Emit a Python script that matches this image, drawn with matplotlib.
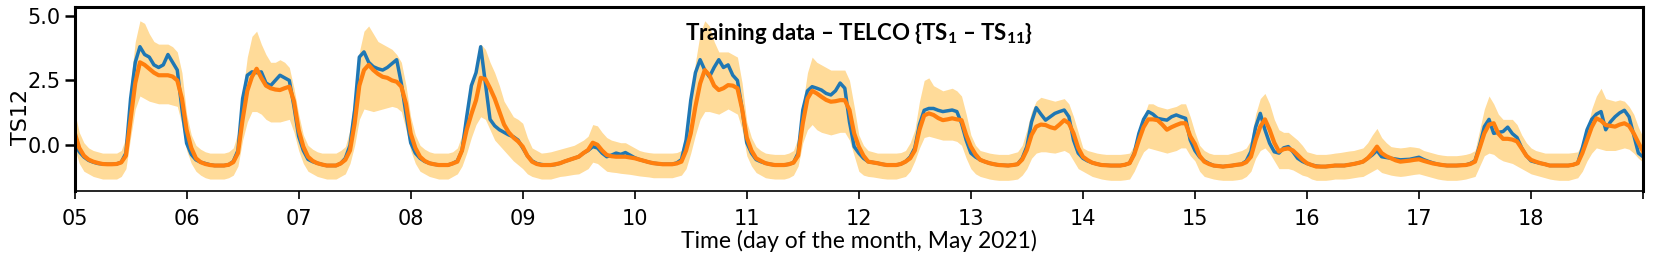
import pandas as pd
import matplotlib
matplotlib.use('Agg')
import matplotlib.pyplot as plt

plt.rcParams['mathtext.fontset'] = 'custom'
plt.rcParams['mathtext.rm'] = 'Lato'
plt.rcParams['mathtext.bf'] = 'Lato:bold'

# hourly samples from 5 May 00:00 to 19 May 00:00 (one row per day)
start, end = '2021-05-05 00:00', '2021-05-19 00:00'

actual = [
    0.1, -0.25, -0.45, -0.58, -0.65, -0.7, -0.72, -0.73, -0.73, -0.72, -0.65, -0.3,
    1.8, 3.2, 3.8, 3.5, 3.4, 3.1, 3.0, 3.1, 3.5, 3.2, 2.9, 1.4,
    0.08, -0.35, -0.56, -0.65, -0.7, -0.75, -0.78, -0.78, -0.78, -0.75, -0.62, -0.2,
    1.8, 2.7, 2.83, 2.8, 2.83, 2.4, 2.3, 2.5, 2.7, 2.6, 2.5, 1.5,
    0.35, -0.2, -0.54, -0.63, -0.69, -0.74, -0.78, -0.78, -0.78, -0.7, -0.5, 0.0,
    1.36, 3.4, 3.6, 3.2, 3.03, 2.95, 2.9, 3.0, 3.15, 3.3, 2.38, 1.2,
    0.1, -0.3, -0.5, -0.62, -0.69, -0.73, -0.76, -0.76, -0.76, -0.7, -0.6, -0.2,
    1.1, 2.3, 2.8, 3.8, 2.4, 1.0, 0.75, 0.6, 0.5, 0.4, 0.33, 0.2,
    -0.1, -0.4, -0.6, -0.7, -0.74, -0.76, -0.76, -0.74, -0.69, -0.62, -0.56, -0.5,
    -0.44, -0.3, -0.2, -0.05, -0.1, -0.3, -0.44, -0.38, -0.3, -0.35, -0.28, -0.38,
    -0.48, -0.55, -0.6, -0.65, -0.69, -0.71, -0.73, -0.73, -0.73, -0.68, -0.55, 0.2,
    1.74, 2.8, 3.3, 2.9, 2.64, 3.0, 3.3, 3.0, 3.1, 2.7, 2.5, 1.4,
    0.1, -0.3, -0.55, -0.63, -0.69, -0.73, -0.76, -0.76, -0.76, -0.73, -0.67, -0.3,
    1.36, 2.1, 2.26, 2.2, 2.13, 2.0, 1.94, 2.1, 2.4, 2.2, 0.9, -0.05,
    -0.3, -0.5, -0.63, -0.66, -0.69, -0.73, -0.76, -0.76, -0.76, -0.72, -0.63, -0.45,
    -0.1, 0.8, 1.35, 1.42, 1.42, 1.35, 1.3, 1.33, 1.36, 1.3, 0.85, 0.2,
    -0.3, -0.45, -0.56, -0.63, -0.69, -0.73, -0.76, -0.77, -0.78, -0.76, -0.73, -0.5,
    -0.05, 0.9, 1.45, 1.2, 0.97, 1.1, 1.23, 1.3, 1.36, 1.1, 0.2, -0.3,
    -0.5, -0.6, -0.67, -0.72, -0.76, -0.77, -0.78, -0.78, -0.78, -0.75, -0.69, -0.3,
    0.46, 1.0, 1.3, 1.2, 1.04, 1.0, 0.97, 1.1, 1.17, 1.1, 1.04, 0.2,
    -0.2, -0.45, -0.6, -0.7, -0.78, -0.8, -0.82, -0.8, -0.78, -0.75, -0.73, -0.6,
    -0.24, 0.7, 1.23, 0.6, 0.08, -0.25, -0.3, -0.1, -0.05, -0.25, -0.5, -0.62,
    -0.7, -0.76, -0.8, -0.82, -0.82, -0.8, -0.78, -0.78, -0.78, -0.75, -0.72, -0.68,
    -0.63, -0.5, -0.37, -0.2, -0.44, -0.47, -0.5, -0.53, -0.56, -0.55, -0.54, -0.5,
    -0.46, -0.55, -0.62, -0.68, -0.73, -0.76, -0.78, -0.78, -0.78, -0.77, -0.76, -0.7,
    -0.6, 0.0, 0.72, 1.0, 0.46, 0.5, 0.53, 0.7, 0.45, 0.3, -0.1, -0.4,
    -0.6, -0.65, -0.69, -0.73, -0.78, -0.78, -0.78, -0.78, -0.78, -0.75, -0.69, -0.1,
    0.6, 1.0, 1.2, 1.3, 0.6, 0.9, 1.1, 1.25, 1.35, 1.1, 0.4, -0.3,
    -0.44,
]

predicted = [
    0.5, -0.1, -0.4, -0.55, -0.63, -0.68, -0.72, -0.73, -0.73, -0.72, -0.66, -0.4,
    1.0, 2.4, 3.2, 3.1, 2.95, 2.8, 2.7, 2.7, 2.7, 2.65, 2.5, 1.8,
    0.6, -0.1, -0.5, -0.65, -0.72, -0.76, -0.78, -0.78, -0.78, -0.75, -0.65, -0.3,
    1.0, 2.1, 2.64, 2.95, 2.6, 2.3, 2.2, 2.15, 2.13, 2.2, 2.26, 1.7,
    0.6, -0.05, -0.44, -0.6, -0.69, -0.74, -0.78, -0.78, -0.78, -0.7, -0.56, -0.2,
    0.85, 2.3, 2.9, 3.1, 2.9, 2.75, 2.64, 2.6, 2.5, 2.45, 2.26, 1.6,
    0.46, -0.1, -0.44, -0.6, -0.69, -0.73, -0.76, -0.76, -0.76, -0.7, -0.63, -0.2,
    0.6, 1.2, 1.74, 2.6, 2.55, 2.2, 1.8, 1.3, 0.8, 0.5, 0.3, 0.15,
    -0.05, -0.4, -0.63, -0.72, -0.76, -0.76, -0.76, -0.73, -0.69, -0.62, -0.56, -0.5,
    -0.44, -0.3, -0.18, 0.1, 0.02, -0.2, -0.37, -0.42, -0.44, -0.44, -0.44, -0.47,
    -0.5, -0.55, -0.6, -0.65, -0.69, -0.71, -0.73, -0.73, -0.73, -0.7, -0.63, -0.2,
    0.46, 1.5, 2.38, 2.9, 2.7, 2.3, 2.13, 2.2, 2.32, 2.3, 2.2, 1.4,
    0.3, -0.2, -0.5, -0.6, -0.69, -0.73, -0.76, -0.76, -0.76, -0.73, -0.67, -0.4,
    0.85, 1.8, 2.1, 2.0, 1.87, 1.75, 1.68, 1.7, 1.74, 1.74, 1.36, 0.46,
    -0.05, -0.4, -0.63, -0.66, -0.69, -0.73, -0.76, -0.76, -0.76, -0.72, -0.63, -0.5,
    -0.2, 0.6, 1.15, 1.23, 1.17, 1.05, 0.97, 1.0, 1.04, 1.0, 0.97, 0.4,
    -0.05, -0.35, -0.56, -0.63, -0.69, -0.73, -0.76, -0.77, -0.78, -0.76, -0.73, -0.55,
    -0.18, 0.4, 0.72, 0.8, 0.78, 0.7, 0.65, 0.8, 0.97, 0.85, 0.46, -0.1,
    -0.44, -0.57, -0.67, -0.72, -0.76, -0.77, -0.78, -0.78, -0.78, -0.75, -0.69, -0.35,
    0.2, 0.7, 1.0, 1.0, 0.97, 0.8, 0.6, 0.7, 0.78, 0.85, 0.85, 0.35,
    0.05, -0.4, -0.63, -0.72, -0.78, -0.8, -0.82, -0.8, -0.78, -0.75, -0.73, -0.65,
    -0.44, 0.2, 0.72, 1.0, 0.6, 0.1, -0.24, -0.15, -0.12, -0.2, -0.37, -0.55,
    -0.69, -0.76, -0.82, -0.82, -0.82, -0.8, -0.78, -0.78, -0.78, -0.75, -0.72, -0.68,
    -0.63, -0.5, -0.3, -0.05, -0.3, -0.42, -0.5, -0.58, -0.63, -0.61, -0.59, -0.56,
    -0.54, -0.6, -0.65, -0.7, -0.73, -0.76, -0.78, -0.78, -0.78, -0.77, -0.76, -0.72,
    -0.63, -0.1, 0.46, 0.8, 0.85, 0.45, 0.25, 0.25, 0.22, 0.15, -0.12, -0.4,
    -0.56, -0.63, -0.69, -0.73, -0.78, -0.78, -0.78, -0.78, -0.78, -0.75, -0.69, -0.3,
    0.2, 0.7, 1.04, 0.95, 0.78, 0.75, 0.72, 0.8, 0.85, 0.75, 0.46, 0.1,
    -0.24,
]

upper = [
    1.3, 0.5, 0.1, -0.1, -0.2, -0.25, -0.3, -0.3, -0.3, -0.3, -0.2, 0.3,
    2.4, 4.0, 4.8, 4.7, 4.3, 4.0, 3.9, 3.9, 3.9, 3.8, 3.6, 2.8,
    1.2, 0.4, 0.0, -0.15, -0.25, -0.3, -0.3, -0.3, -0.3, -0.25, -0.1, 0.5,
    2.0, 3.4, 4.2, 4.4, 3.9, 3.5, 3.2, 3.2, 3.3, 3.2, 3.0, 2.2,
    1.2, 0.4, 0.0, -0.15, -0.25, -0.3, -0.3, -0.3, -0.3, -0.2, -0.05, 0.6,
    2.0, 3.6, 4.4, 4.6, 4.3, 4.0, 3.9, 3.8, 3.7, 3.5, 3.2, 2.3,
    1.1, 0.4, 0.0, -0.15, -0.25, -0.3, -0.3, -0.3, -0.3, -0.25, -0.1, 0.4,
    1.5, 2.3, 3.0, 3.9, 3.7, 3.2, 2.8, 2.3, 1.7, 1.4, 1.1, 1.0,
    0.85, 0.3, -0.1, -0.2, -0.3, -0.28, -0.25, -0.2, -0.15, -0.1, -0.05, 0.0,
    0.1, 0.2, 0.35, 0.8, 0.75, 0.5, 0.3, 0.2, 0.15, 0.1, 0.1, 0.0,
    -0.1, -0.2, -0.25, -0.28, -0.3, -0.3, -0.3, -0.3, -0.3, -0.28, -0.2, 0.5,
    1.8, 3.2, 4.3, 4.8, 4.6, 4.0, 3.6, 3.6, 3.6, 3.5, 3.4, 2.4,
    0.9, 0.3, -0.05, -0.2, -0.3, -0.33, -0.35, -0.35, -0.35, -0.3, -0.2, 0.3,
    1.6, 2.8, 3.4, 3.2, 3.1, 3.0, 2.9, 2.9, 2.9, 2.9, 2.5, 1.5,
    0.4, 0.0, -0.2, -0.25, -0.3, -0.3, -0.3, -0.3, -0.3, -0.28, -0.2, 0.1,
    0.6, 1.7, 2.5, 2.6, 2.3, 2.2, 2.1, 2.15, 2.2, 2.1, 1.9, 1.2,
    0.4, 0.0, -0.2, -0.25, -0.3, -0.33, -0.35, -0.35, -0.35, -0.3, -0.25, 0.0,
    0.6, 1.3, 1.7, 1.85, 1.8, 1.75, 1.7, 1.75, 1.8, 1.6, 1.1, 0.5,
    -0.1, -0.2, -0.25, -0.3, -0.33, -0.35, -0.35, -0.35, -0.35, -0.33, -0.3, 0.0,
    0.4, 1.1, 1.6, 1.6, 1.5, 1.45, 1.4, 1.45, 1.5, 1.6, 1.6, 1.1,
    0.5, 0.0, -0.2, -0.3, -0.35, -0.35, -0.35, -0.35, -0.3, -0.25, -0.2, -0.1,
    0.2, 1.2, 1.8, 2.0, 1.6, 1.0, 0.6, 0.5, 0.5, 0.35, 0.2, 0.0,
    -0.25, -0.3, -0.35, -0.35, -0.35, -0.33, -0.3, -0.28, -0.25, -0.22, -0.2, -0.15,
    -0.1, 0.1, 0.4, 0.65, 0.3, 0.1, -0.05, -0.08, -0.1, -0.08, -0.05, -0.07,
    -0.1, -0.2, -0.25, -0.3, -0.35, -0.38, -0.4, -0.4, -0.4, -0.38, -0.35, -0.3,
    -0.2, 0.6, 1.4, 1.9, 1.6, 1.2, 1.0, 1.0, 1.0, 0.8, 0.4, 0.1,
    -0.1, -0.2, -0.25, -0.3, -0.3, -0.3, -0.3, -0.3, -0.3, -0.28, -0.25, 0.1,
    0.6, 1.4, 1.9, 2.2, 1.8, 1.75, 1.7, 1.75, 1.7, 1.5, 1.2, 0.7,
    0.3,
]

lower = [
    -0.1, -0.7, -1.0, -1.1, -1.2, -1.25, -1.3, -1.3, -1.3, -1.3, -1.2, -0.9,
    0.3, 1.4, 1.9, 1.8, 1.7, 1.65, 1.6, 1.6, 1.6, 1.55, 1.5, 0.8,
    -0.2, -0.7, -1.0, -1.15, -1.25, -1.3, -1.3, -1.3, -1.3, -1.25, -1.15, -0.8,
    0.2, 0.9, 1.3, 1.3, 1.2, 1.0, 0.9, 0.9, 0.9, 0.95, 1.0, 0.5,
    -0.2, -0.7, -1.0, -1.1, -1.2, -1.25, -1.3, -1.3, -1.3, -1.2, -1.1, -0.7,
    0.0, 1.0, 1.4, 1.35, 1.3, 1.35, 1.4, 1.45, 1.5, 1.45, 1.3, 0.6,
    -0.2, -0.7, -1.0, -1.1, -1.2, -1.25, -1.3, -1.3, -1.3, -1.2, -1.1, -0.8,
    -0.3, 0.3, 0.8, 1.1, 1.0, 0.6, 0.2, 0.0, -0.2, -0.4, -0.6, -0.75,
    -0.9, -1.1, -1.2, -1.25, -1.3, -1.3, -1.3, -1.25, -1.2, -1.18, -1.15, -1.12,
    -1.1, -1.0, -0.9, -0.65, -0.7, -0.85, -1.0, -1.03, -1.05, -1.08, -1.1, -1.12,
    -1.15, -1.18, -1.2, -1.22, -1.25, -1.25, -1.25, -1.25, -1.25, -1.2, -1.15, -0.9,
    -0.3, 0.4, 1.0, 1.3, 1.3, 1.25, 1.2, 1.3, 1.4, 1.3, 1.2, 0.6,
    -0.4, -0.8, -1.05, -1.15, -1.25, -1.28, -1.3, -1.3, -1.3, -1.25, -1.15, -0.8,
    0.1, 0.6, 0.8, 0.6, 0.5, 0.45, 0.4, 0.45, 0.5, 0.5, 0.2, -0.4,
    -1.0, -1.15, -1.2, -1.22, -1.25, -1.28, -1.3, -1.3, -1.3, -1.25, -1.2, -1.0,
    -0.6, -0.1, 0.3, 0.35, 0.3, 0.25, 0.2, 0.2, 0.2, 0.15, 0.0, -0.5,
    -0.9, -1.1, -1.2, -1.25, -1.3, -1.33, -1.35, -1.35, -1.35, -1.33, -1.3, -1.15,
    -0.9, -0.5, -0.3, -0.25, -0.25, -0.28, -0.3, -0.25, -0.2, -0.3, -0.6, -0.9,
    -1.0, -1.1, -1.2, -1.25, -1.3, -1.33, -1.35, -1.35, -1.35, -1.33, -1.3, -1.0,
    -0.6, -0.25, -0.1, -0.15, -0.2, -0.25, -0.3, -0.25, -0.2, -0.1, -0.1, -0.4,
    -0.6, -1.0, -1.2, -1.25, -1.3, -1.33, -1.35, -1.35, -1.35, -1.33, -1.3, -1.2,
    -1.0, -0.5, -0.2, -0.1, -0.3, -0.6, -0.9, -0.9, -0.9, -0.95, -1.05, -1.15,
    -1.2, -1.3, -1.35, -1.35, -1.35, -1.33, -1.3, -1.3, -1.3, -1.28, -1.25, -1.22,
    -1.2, -1.1, -1.0, -0.9, -1.05, -1.1, -1.15, -1.18, -1.2, -1.18, -1.15, -1.12,
    -1.1, -1.15, -1.2, -1.25, -1.3, -1.33, -1.35, -1.35, -1.35, -1.33, -1.3, -1.25,
    -1.2, -0.8, -0.4, -0.3, -0.35, -0.5, -0.6, -0.65, -0.7, -0.8, -0.9, -1.0,
    -1.1, -1.15, -1.2, -1.25, -1.3, -1.33, -1.35, -1.35, -1.35, -1.3, -1.25, -1.0,
    -0.6, -0.3, -0.1, -0.15, -0.2, -0.2, -0.2, -0.15, -0.1, -0.15, -0.3, -0.5,
    -0.65,
]

day_labels = ['05', '06', '07', '08', '09', '10', '11', '12', '13', '14',
              '15', '16', '17', '18', '']
ytick_vals = [0.0, 2.5, 5.0]
title = r'Training data – TELCO {TS$_{\mathbf{1}}$ – TS$_{\mathbf{11}}$}'

t = pd.date_range(start, end, freq='1h')
days = pd.date_range(start, end, freq='D')

fig = plt.figure(figsize=(16.61, 2.6), dpi=100)
ax = fig.add_axes([0.0449, 0.2665, 0.9443, 0.7065])

ax.fill_between(t, lower, upper, color='orange', alpha=0.4, lw=0)
ax.plot(t, actual, color='tab:blue', lw=2.5)
ax.plot(t, predicted, color='tab:orange', lw=3)

ax.set_xlim(t[0], t[-1])
ax.set_ylim(-1.75, 5.33)
ax.set_xticks(days)
ax.set_xticklabels(day_labels)
ax.set_yticks(ytick_vals)
ax.set_yticklabels(['%.1f' % v for v in ytick_vals])
ax.tick_params(axis='x', labelsize=15, length=6, width=1.2, pad=7)
ax.tick_params(axis='y', labelsize=15, length=7, width=1.8, pad=3)

for s in ['left', 'top', 'right']:
    ax.spines[s].set_linewidth(2.2)
ax.spines['bottom'].set_linewidth(1.2)

ax.set_ylabel('TS12', fontsize=16)
ax.yaxis.set_label_coords(-0.028, 0.40)

ax.text(0.5, 0.82, title, transform=ax.transAxes, ha='center',
        va='baseline', family='Lato', weight='bold', fontsize=16)
fig.text(0.517, 0.046, 'Time (day of the month, May 2021)', ha='center',
         va='baseline', family='Lato', fontsize=16.5)

fig.savefig('out.png', dpi=100)
